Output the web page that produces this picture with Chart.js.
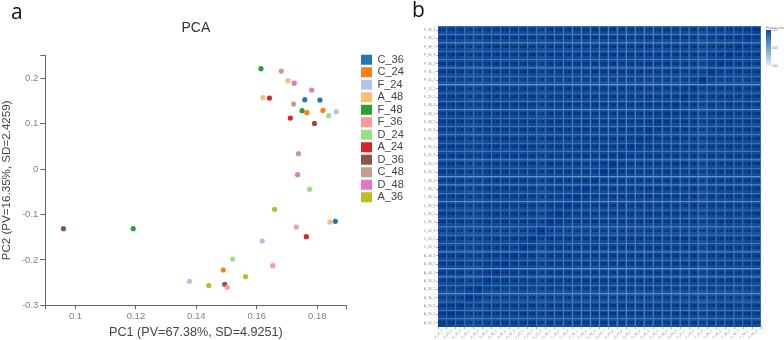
<!DOCTYPE html>
<html>
<head>
<meta charset="utf-8">
<title>PCA and Pearson heatmap</title>
<script src="https://cdn.jsdelivr.net/npm/chart.js@4"></script>
<style>
  html, body { margin: 0; padding: 0; background: #fff; }
  #page { position: relative; width: 784px; height: 340px; overflow: hidden; font-family: "Liberation Sans", Arial, sans-serif; filter: blur(0.35px); }
  canvas { position: absolute; top: 0; }
  #pcaChart { left: 0; }
  #heatChart { left: 405px; }
  .letter { position: absolute; font-family: "Open Sans", sans-serif; font-size: 21px; line-height: 24px; color: #111; }
  #barTitle, .barLabel { position: absolute; font-size: 3px; line-height: 4px; color: #777; white-space: nowrap; }
  #colorBar { position: absolute; left: 766px; top: 30px; width: 5px; height: 36px; background: linear-gradient(#0b4da2, #6f9fd6 50%, #e3eef9); }
</style>
</head>
<body>
<div id="page">
  <canvas id="pcaChart" width="425" height="340"></canvas>
  <canvas id="heatChart" width="379" height="340"></canvas>
  <div class="letter" style="left:11px;top:-1px">a</div>
  <div class="letter" style="left:412px;top:-3px">b</div>
  <div id="barTitle" style="left:766px;top:26px">Pearson value</div>
  <div id="colorBar"></div>
  <div class="barLabel" style="left:772px;top:28px">1.00</div>
  <div class="barLabel" style="left:772px;top:46px">0.50</div>
  <div class="barLabel" style="left:772px;top:64px">0.00</div>
</div>

<script>
/* ===== PCA data ===== */
const seriesNames = ["C_36", "C_24", "F_24", "A_48", "F_48", "F_36", "D_24", "A_24", "D_36", "C_48", "D_48", "A_36"];
const seriesColors = ["#1f77b4", "#ff7f0e", "#aec7e8", "#ffbb78", "#2ca02c", "#ff9896", "#98df8a", "#d62728", "#8c564b", "#c49c94", "#e377c2", "#bcbd22"];

const pc1Values = [
  [0.1759, 0.1809, 0.1860],
  [0.1766, 0.1819, 0.1489],
  [0.1863, 0.1618, 0.1377],
  [0.1703, 0.1620, 0.1842],
  [0.1614, 0.1750, 0.1191],
  [0.1731, 0.1653, 0.1502],
  [0.1838, 0.1775, 0.1520],
  [0.1642, 0.1711, 0.1764],
  [0.1791, 0.0960, 0.1494],
  [0.1681, 0.1722, 0.1738],
  [0.1724, 0.1782, 0.1735],
  [0.1659, 0.1563, 0.1441]
];
const pc2Values = [
  [0.1531, 0.1522, -0.1150],
  [0.1244, 0.1295, -0.2222],
  [0.1267, -0.1584, -0.2471],
  [0.1949, 0.1575, -0.1165],
  [0.2214, 0.1289, -0.1311],
  [-0.1275, -0.2126, -0.2604],
  [0.1178, -0.0445, -0.1980],
  [0.1566, 0.1126, -0.1487],
  [0.1009, -0.1311, -0.2537],
  [0.2161, 0.1434, 0.0341],
  [0.1896, 0.1742, -0.0121],
  [-0.0885, -0.2368, -0.2566]
];
const pc1Ticks = [0.09, 0.1, 0.12, 0.14, 0.16, 0.18, 0.1897];
const pc2Ticks = [-0.3, -0.2, -0.1, 0, 0.1, 0.2, 0.2507];

/* ===== Heatmap data (lower triangle, percent) ===== */
const sampleNames = [
  "A_24_1", "A_24_2", "A_24_3", "A_36_1", "A_36_2", "A_36_3", "A_48_1", "A_48_2", "A_48_3",
  "C_24_1", "C_24_2", "C_24_3", "C_36_1", "C_36_2", "C_36_3", "C_48_1", "C_48_2", "C_48_3",
  "D_24_1", "D_24_2", "D_24_3", "D_36_1", "D_36_2", "D_36_3", "D_48_1", "D_48_2", "D_48_3",
  "F_24_1", "F_24_2", "F_24_3", "F_36_1", "F_36_2", "F_36_3", "F_48_1", "F_48_2", "F_48_3"
];
const pearsonRows = [
  [100],
  [97, 100],
  [96, 97, 100],
  [92, 93, 92, 100],
  [93, 92, 93, 96, 100],
  [95, 96, 95, 92, 93, 100],
  [96, 95, 96, 91, 93, 96, 100],
  [96, 96, 95, 92, 92, 97, 96, 100],
  [95, 95, 96, 93, 92, 96, 97, 96, 100],
  [95, 96, 94, 91, 93, 95, 95, 96, 95, 100],
  [96, 95, 95, 92, 92, 95, 96, 95, 96, 97, 100],
  [91, 92, 91, 89, 90, 92, 91, 92, 91, 92, 92, 100],
  [96, 95, 96, 92, 93, 96, 95, 96, 95, 96, 96, 92, 100],
  [95, 96, 95, 91, 92, 95, 96, 95, 96, 95, 95, 91, 97, 100],
  [96, 95, 95, 92, 93, 96, 95, 96, 96, 95, 96, 92, 96, 97, 100],
  [95, 95, 96, 92, 92, 95, 96, 95, 95, 96, 95, 92, 96, 95, 96, 100],
  [96, 96, 95, 91, 93, 96, 95, 96, 96, 95, 96, 91, 95, 96, 95, 97, 100],
  [95, 96, 96, 92, 92, 95, 96, 95, 96, 96, 95, 92, 96, 96, 96, 96, 97, 100],
  [96, 95, 95, 92, 93, 96, 96, 96, 95, 95, 96, 92, 95, 95, 96, 95, 96, 95, 100],
  [95, 96, 96, 91, 92, 95, 95, 95, 96, 96, 95, 91, 96, 96, 95, 96, 95, 96, 97, 100],
  [96, 95, 96, 93, 92, 96, 96, 96, 96, 95, 96, 92, 96, 95, 96, 95, 96, 96, 96, 97, 100],
  [95, 96, 95, 92, 93, 95, 96, 95, 95, 96, 95, 92, 95, 96, 95, 96, 96, 95, 96, 96, 96, 100],
  [96, 96, 96, 92, 92, 96, 95, 96, 96, 95, 96, 91, 96, 95, 96, 95, 95, 96, 95, 96, 95, 97, 100],
  [95, 95, 95, 91, 93, 95, 96, 96, 95, 96, 95, 92, 95, 96, 96, 96, 96, 95, 96, 95, 96, 96, 97, 100],
  [96, 96, 95, 92, 92, 96, 96, 95, 96, 96, 96, 92, 96, 96, 95, 95, 96, 96, 95, 96, 96, 95, 96, 96, 100],
  [95, 95, 96, 93, 93, 95, 95, 96, 95, 95, 95, 91, 95, 95, 96, 96, 95, 95, 96, 95, 95, 96, 95, 95, 97, 100],
  [96, 96, 96, 92, 92, 96, 96, 96, 96, 96, 96, 92, 96, 96, 96, 95, 96, 96, 96, 96, 96, 95, 96, 96, 96, 97, 100],
  [95, 96, 95, 91, 93, 95, 95, 95, 95, 95, 96, 91, 95, 96, 95, 96, 95, 95, 95, 96, 95, 96, 95, 96, 95, 96, 95, 100],
  [96, 95, 96, 92, 92, 96, 96, 96, 96, 96, 95, 92, 96, 95, 96, 95, 96, 96, 96, 95, 96, 95, 96, 95, 96, 95, 96, 97, 100],
  [92, 92, 91, 89, 90, 92, 91, 92, 92, 91, 92, 88, 92, 91, 92, 91, 92, 91, 92, 91, 92, 91, 92, 91, 92, 92, 91, 93, 93, 100],
  [96, 96, 95, 92, 93, 96, 95, 96, 95, 96, 96, 92, 95, 96, 96, 96, 95, 96, 95, 96, 96, 96, 96, 95, 96, 95, 96, 95, 96, 92, 100],
  [95, 95, 96, 93, 92, 95, 96, 95, 96, 95, 95, 91, 96, 95, 95, 95, 96, 95, 96, 95, 95, 95, 95, 96, 95, 96, 95, 96, 95, 91, 97, 100],
  [96, 96, 96, 92, 93, 96, 96, 96, 96, 96, 96, 92, 96, 96, 96, 96, 96, 96, 96, 96, 96, 96, 96, 96, 96, 96, 96, 96, 96, 92, 96, 97, 100],
  [95, 95, 95, 91, 92, 95, 95, 95, 95, 95, 95, 92, 95, 95, 95, 95, 95, 95, 95, 95, 95, 95, 96, 95, 95, 95, 95, 95, 96, 91, 96, 96, 96, 100],
  [96, 96, 95, 92, 93, 96, 96, 96, 95, 96, 96, 92, 96, 95, 96, 96, 96, 95, 96, 96, 96, 95, 96, 96, 96, 96, 96, 96, 95, 92, 95, 96, 96, 97, 100],
  [95, 96, 96, 93, 92, 95, 95, 96, 96, 95, 95, 91, 96, 96, 95, 95, 96, 96, 95, 95, 96, 96, 95, 95, 95, 96, 95, 95, 96, 92, 96, 95, 96, 96, 97, 100]
];

/* ===== Helpers ===== */
function cellValue(row, col) {
  return (col <= row ? pearsonRows[row][col] : pearsonRows[col][row]) / 100;
}

function cellColor(v) {
  const low = [227, 238, 249], high = [5, 68, 152];
  const rgb = low.map((c, i) => Math.round(c + (high[i] - c) * v));
  return `rgb(${rgb.join(",")})`;
}

/* ===== PCA chart ===== */
const axisGray = "#666";
const tickText = "#808080";

// the legend sits a little away from the plot, so place it after layout
const legendPlace = {
  id: "legendPlace",
  afterLayout(chart) {
    const box = chart.legend;
    box.left = 359.5;
    box.right = 420;
    box.top = 52.7;
    box.bottom = 305;
  }
};

new Chart(document.getElementById("pcaChart"), {
  type: "scatter",
  data: {
    datasets: seriesNames.map((name, s) => ({
      label: name,
      data: pc1Values[s].map((x, i) => ({ x, y: pc2Values[s][i] })),
      backgroundColor: seriesColors[s],
      borderColor: seriesColors[s],
      pointRadius: 2.6,
      pointBorderWidth: 0
    }))
  },
  plugins: [legendPlace],
  options: {
    responsive: false,
    animation: false,
    layout: { padding: { right: 24.2 } },
    plugins: {
      tooltip: { enabled: false },
      title: {
        display: true,
        text: "PCA",
        fullSize: false,
        color: "#333",
        font: { family: "Liberation Sans", size: 14, weight: "normal" },
        padding: { top: 20, bottom: 18.6 }
      },
      legend: {
        display: true,
        position: "right",
        align: "start",
        fullSize: false,
        labels: {
          boxWidth: 11,
          boxHeight: 10,
          padding: 1.5,
          color: "#444",
          font: { family: "Liberation Sans", size: 11 }
        }
      }
    },
    scales: {
      x: {
        type: "linear",
        min: 0.09,
        max: 0.1897,
        afterFit: s => { s.height = 34.7; },
        afterBuildTicks: s => { s.ticks = pc1Ticks.map(value => ({ value })); },
        border: { color: axisGray },
        grid: { drawOnChartArea: false, color: axisGray, tickLength: 4 },
        ticks: {
          autoSkip: false,
          maxRotation: 0,
          padding: 1,
          color: tickText,
          font: { family: "Liberation Sans", size: 9.5 },
          callback: v => (v === 0.09 || v === 0.1897 ? "" : String(v))
        },
        title: {
          display: true,
          text: "PC1 (PV=67.38%, SD=4.9251)",
          color: "#444",
          font: { family: "Liberation Sans", size: 12.6 },
          padding: 0
        }
      },
      y: {
        type: "linear",
        min: -0.3,
        max: 0.2507,
        afterFit: s => { s.width = 45.3; },
        afterBuildTicks: s => { s.ticks = pc2Ticks.map(value => ({ value })); },
        border: { color: axisGray },
        grid: { drawOnChartArea: false, color: axisGray, tickLength: 5 },
        ticks: {
          autoSkip: false,
          padding: 2,
          color: tickText,
          font: { family: "Liberation Sans", size: 9.5 },
          callback: v => (v === 0.2507 ? "" : String(v))
        },
        title: {
          display: true,
          text: "PC2 (PV=16.35%, SD=2.4259)",
          color: "#444",
          font: { family: "Liberation Sans", size: 11.6 },
          padding: 0
        }
      }
    }
  }
});

/* ===== Heatmap chart: stacked one-unit bars, one dataset per row ===== */
const cellText = {
  id: "cellText",
  afterDatasetsDraw(chart) {
    const ctx = chart.ctx;
    ctx.save();
    ctx.font = 'bold 3.4px "Liberation Sans"';
    ctx.fillStyle = "rgba(4,24,60,0.85)";
    ctx.textAlign = "center";
    ctx.textBaseline = "middle";
    chart.data.datasets.forEach((ds, row) => {
      chart.getDatasetMeta(row).data.forEach((bar, col) => {
        const p = bar.getCenterPoint();
        ctx.fillText(ds.pearson[col].toFixed(2), p.x, p.y);
      });
    });
    ctx.restore();
  }
};

new Chart(document.getElementById("heatChart"), {
  type: "bar",
  data: {
    labels: sampleNames,
    datasets: sampleNames.map((name, row) => {
      const pearson = sampleNames.map((_, col) => cellValue(row, col));
      return {
        label: name,
        pearson,
        data: sampleNames.map(() => 1),
        backgroundColor: pearson.map(cellColor),
        borderColor: "#4478b9",
        borderWidth: { top: 1, right: 1, left: 0, bottom: 0 },
        borderSkipped: false,
        barPercentage: 1,
        categoryPercentage: 1
      };
    })
  },
  plugins: [cellText],
  options: {
    responsive: false,
    animation: false,
    layout: { padding: { top: 26, right: 23 } },
    plugins: { legend: { display: false }, tooltip: { enabled: false } },
    scales: {
      x: {
        stacked: true,
        afterFit: s => { s.height = 13; },
        border: { display: false },
        grid: { drawOnChartArea: false, color: "#aaa", tickLength: 2 },
        ticks: {
          autoSkip: false,
          minRotation: 45,
          maxRotation: 45,
          padding: 0,
          color: "#888",
          font: { family: "Liberation Sans", size: 3.2 }
        }
      },
      y: {
        stacked: true,
        min: 0,
        max: sampleNames.length,
        afterFit: s => { s.width = 33; },
        afterBuildTicks: s => { s.ticks = sampleNames.map((_, i) => ({ value: i + 0.5 })); },
        border: { display: false },
        grid: { drawOnChartArea: false, color: "#aaa", tickLength: 2 },
        ticks: {
          autoSkip: false,
          padding: 1,
          color: "#888",
          font: { family: "Liberation Sans", size: 3.2 },
          callback: (v, i) => sampleNames[i]
        }
      }
    }
  }
});
</script>
</body>
</html>
